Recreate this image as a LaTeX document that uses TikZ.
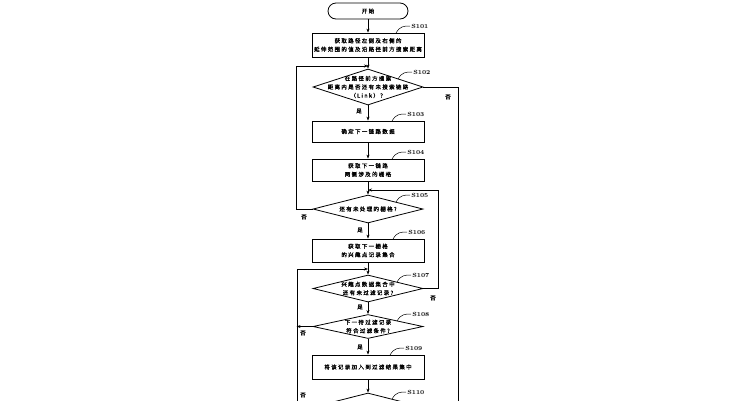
\documentclass[tikz,border=0pt]{standalone}
\usepackage{fontspec}
\newfontfamily\cjk[LetterSpace=24, FakeBold=1.2]{Noto Sans CJK SC}
\usetikzlibrary{arrows.meta, shapes.geometric}

\begin{document}
\begin{tikzpicture}[x=1pt, y=-1pt, line width=0.8pt,
  term/.style={draw, rounded corners=8pt, minimum width=80pt, minimum height=16pt, inner sep=0pt, font=\cjk\fontsize{5.5}{8.5}\selectfont},
  box/.style={draw, minimum width=112pt, minimum height=22pt, inner sep=0pt, align=center, font=\cjk\fontsize{5.5}{8.5}\selectfont},
  dia/.style={draw, diamond, minimum width=110pt, inner sep=0pt},
  txt/.style={align=center, inner sep=0pt, font=\cjk\fontsize{5.5}{8.5}\selectfont},
  yn/.style={inner sep=0pt, font=\cjk\fontsize{5.5}{7}\selectfont},
  tag/.style={right, inner sep=1pt, font=\bfseries\fontsize{6}{7}\selectfont},
  arr/.style={-{Stealth[length=4pt,width=3pt]}}]
\useasboundingbox (0,0) rectangle (751,400);
\clip (0,0) rectangle (751,400);

% steps
\node[term] (start) at (368,11) {开始};
\node[box, minimum height=24pt] (s101) at (368,45) {获取路径左侧及右侧的\\延伸范围的值及沿路径前方搜索距离};
\node[dia, minimum height=36pt] (s102) at (368,87) {};
\node[txt] (s102t) at (s102) {在路径前方搜索\\距离内是否还有未搜索链路\\（Link）？};
\node[box, minimum height=21pt] (s103) at (368,131.5) {确定下一链路数据};
\node[box] (s104) at (368,170) {获取下一链路\\两侧涉及的栅格};
\node[dia, minimum height=28pt] (s105) at (368,209) {};
\node[txt] (s105t) at (s105) {还有未处理的栅格?};
\node[box, minimum height=23pt] (s106) at (368,250.5) {获取下一栅格\\的兴趣点记录集合};
\node[dia, minimum height=27pt] (s107) at (368,288.5) {};
\node[txt] (s107t) at (s107) {兴趣点数据集合中\\还有未过滤记录?};
\node[dia, minimum height=24pt] (s108) at (368,326.5) {};
\node[txt] (s108t) at (s108) {下一待过滤记录\\符合过滤条件?};
\node[box, minimum height=24pt] (s109) at (368,367) {将该记录加入到过滤结果集中};
\node[dia, minimum height=28pt] (s110) at (368,407) {};

% joins and ends of the loops
\coordinate (j102) at (368,66);
\coordinate (j105) at (368,190);
\coordinate (j107) at (368,269);
\coordinate (lb) at (297,440);
\coordinate (rb) at (458,440);

% main flow
\draw[arr] (start) -- (s101);
\draw[arr] (s101) -- (s102);
\draw[arr] (s102) -- (s103);
\draw[arr] (s103) -- (s104);
\draw[arr] (s104) -- (s105);
\draw[arr] (s105) -- (s106);
\draw[arr] (s106) -- (s107);
\draw[arr] (s107) -- (s108);
\draw[arr] (s108) -- (s109);
\draw[arr] (s109) -- (s110);

% loops
\draw[arr] (s105.west) -- ++(-16,0) |- (j102);
\draw[arr] (s107.east) -- ++(15,0) |- (j105);
\draw[arr] (lb) |- (j107);
\draw[arr] (s108.west) -- ++(-16,0);
\draw (s110.west) -- ++(-16,0);
\draw (s102.east) -- ++(35,0) |- (rb);

% step labels
\foreach \n/\ax/\ay in {101/396/33, 102/398/79, 103/392/121, 104/392/159, 105/396/202,
  106/393/239, 107/397/282, 108/397/321, 109/390/355, 110/392/399} {
  \draw[line width=0.5pt] (\ax,\ay) .. controls +(4,-7) and +(-6,0) .. ++(14,-7)
    node[tag] (t\n) {S\n};
}

% yes / no
\foreach \i/\x/\y in {1/359/111, 2/360/230, 3/360/307, 4/360/347}
  \node[yn] (yes\i) at (\x,\y) {是};
\foreach \i/\x/\y in {1/448/97, 2/304/217, 3/433/298, 4/303/333, 5/303/395}
  \node[yn] (no\i) at (\x,\y) {否};
\end{tikzpicture}
\end{document}
